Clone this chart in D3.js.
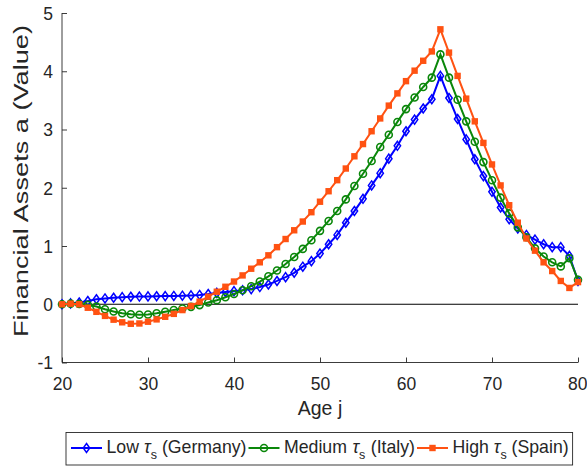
<!DOCTYPE html>
<html>
<head>
<meta charset="utf-8">
<script src="https://cdn.jsdelivr.net/npm/d3@7"></script>
<style>
  body { margin: 0; background: #fff; }
  text { font-family: "Liberation Sans", Arial, Helvetica, sans-serif; fill: #262626; }
</style>
</head>
<body>
<div id="chart"></div>
<script>
// Data: financial assets by age, one value per age 20..80
const ages = d3.range(20, 81);

const lowGermany = [
  0, 0.015, 0.03, 0.055, 0.085, 0.10, 0.112, 0.122, 0.128, 0.132,
  0.135, 0.137, 0.14, 0.143, 0.147, 0.152, 0.16, 0.175, 0.195, 0.21,
  0.225, 0.24, 0.26, 0.295, 0.34, 0.40, 0.465, 0.54, 0.645, 0.74,
  0.87, 1.03, 1.19, 1.40, 1.60, 1.81, 2.04, 2.25, 2.50, 2.72,
  2.97, 3.17, 3.36, 3.52, 3.92, 3.54, 3.18, 2.83, 2.49, 2.20,
  1.93, 1.66, 1.46, 1.30, 1.19, 1.11, 1.03, 0.98, 0.98, 0.83,
  0.40
];

const mediumItaly = [
  0, 0.01, 0.005, -0.01, -0.04, -0.085, -0.125, -0.155, -0.172, -0.18,
  -0.175, -0.155, -0.128, -0.098, -0.072, -0.045, -0.015, 0.03, 0.07, 0.12,
  0.175, 0.24, 0.31, 0.39, 0.48, 0.58, 0.69, 0.81, 0.95, 1.10,
  1.26, 1.43, 1.60, 1.80, 2.03, 2.24, 2.46, 2.70, 2.91, 3.13,
  3.35, 3.55, 3.73, 3.89, 4.29, 3.89, 3.51, 3.14, 2.79, 2.44,
  2.13, 1.83, 1.56, 1.32, 1.15, 0.96, 0.82, 0.72, 0.65, 0.79,
  0.42
];

const highSpain = [
  0, 0.01, 0, -0.06, -0.13, -0.2, -0.265, -0.31, -0.335, -0.33,
  -0.3, -0.26, -0.215, -0.165, -0.1, -0.03, 0.045, 0.13, 0.215, 0.30,
  0.39, 0.495, 0.61, 0.72, 0.84, 0.98, 1.12, 1.27, 1.42, 1.58,
  1.76, 1.94, 2.13, 2.33, 2.54, 2.75, 2.97, 3.19, 3.41, 3.62,
  3.83, 4.01, 4.18, 4.34, 4.72, 4.32, 3.92, 3.53, 3.14, 2.77,
  2.40, 2.04, 1.70, 1.40, 1.13, 0.92, 0.72, 0.57, 0.40, 0.28,
  0.38
];

const xTicks = [20, 30, 40, 50, 60, 70, 80];
const yTicks = [-1, 0, 1, 2, 3, 4, 5];

const series = [
  { name: "Low", country: "(Germany)", values: lowGermany, color: "#0000ff", marker: "diamond" },
  { name: "Medium", country: "(Italy)", values: mediumItaly, color: "#0a870a", marker: "circle" },
  { name: "High", country: "(Spain)", values: highSpain, color: "#ff5212", marker: "square" }
];

const legendTextWidths = [140, 131, 116];

// Dimensions
let width = 587,
    height = 468;

let margin = { top: 13, bottom: 105.5, left: 62, right: 9 };

let svg = d3.select("#chart")
  .append("svg")
  .attr("width", width)
  .attr("height", height);

let x = d3.scaleLinear()
  .domain([20, 80])
  .range([margin.left, width - margin.right]);

let y = d3.scaleLinear()
  .domain([-1, 5])
  .range([height - margin.bottom, margin.top]);

// Axes (MATLAB look: ticks inside, no box)
let xAxis = svg.append("g")
  .attr("transform", `translate(0,${y(-1)})`)
  .call(d3.axisBottom(x).tickValues(xTicks).tickSize(-5).tickFormat(d => String(d)));

let yAxis = svg.append("g")
  .attr("transform", `translate(${x(20)},0)`)
  .call(d3.axisLeft(y).tickValues(yTicks).tickSize(-5).tickPadding(9).tickFormat(d => String(d)));

[xAxis, yAxis].forEach(g => {
  g.select(".domain").attr("stroke", "#262626").attr("stroke-width", 0.9);
  g.selectAll(".tick line").attr("stroke", "#262626").attr("stroke-width", 0.9);
  g.selectAll(".tick text")
    .attr("fill", "#262626")
    .style("font-family", "'Liberation Sans', Arial, sans-serif")
    .style("font-size", "17.5px");
});
xAxis.select(".domain").attr("d", `M${x(20)},0H${x(80)}`);
yAxis.select(".domain").attr("d", `M0,${y(-1)}V${y(5)}`);
xAxis.selectAll(".tick text").attr("dy", 0).attr("y", 27);
// keep the last label inside the page, like the reference
xAxis.selectAll(".tick text").filter(d => d === 80).attr("text-anchor", "end").attr("x", 9);
yAxis.selectAll(".tick text").attr("dy", "0.36em");

// Axis labels
svg.append("text")
  .attr("x", (x(20) + x(80)) / 2)
  .attr("y", 415)
  .attr("text-anchor", "middle")
  .style("font-size", "19.5px")
  .text("Age j");

svg.append("text")
  .attr("transform", `translate(28,181) rotate(-90)`)
  .attr("text-anchor", "middle")
  .attr("textLength", 312)
  .attr("lengthAdjust", "spacingAndGlyphs")
  .style("font-size", "19.5px")
  .text("Financial Assets a (Value)");

// Zero line
svg.append("line")
  .attr("x1", x(20))
  .attr("x2", x(80))
  .attr("y1", y(0))
  .attr("y2", y(0))
  .attr("stroke", "#000")
  .attr("stroke-width", 1.2);

// Marker drawing helper
function drawMarker(g, type, color) {
  if (type === "diamond") {
    g.append("path")
      .attr("d", "M0,-4.5L3.2,0L0,4.5L-3.2,0Z")
      .attr("fill", "none")
      .attr("stroke", color)
      .attr("stroke-width", 1.5);
  } else if (type === "circle") {
    g.append("circle")
      .attr("r", 3.5)
      .attr("fill", "none")
      .attr("stroke", color)
      .attr("stroke-width", 1.6);
  } else {
    g.append("rect")
      .attr("x", -3.2)
      .attr("y", -3.2)
      .attr("width", 6.4)
      .attr("height", 6.4)
      .attr("fill", color);
  }
}

let line = d3.line()
  .x((d, i) => x(ages[i]))
  .y(d => y(d));

// Series lines and markers
series.forEach(s => {
  svg.append("path")
    .datum(s.values)
    .attr("fill", "none")
    .attr("stroke", s.color)
    .attr("stroke-width", 2)
    .attr("d", line);

  svg.append("g")
    .selectAll("g")
    .data(s.values)
    .enter()
    .append("g")
    .attr("transform", (d, i) => `translate(${x(ages[i])},${y(d)})`)
    .each(function() { drawMarker(d3.select(this), s.marker, s.color); });
});

// Legend
let legend = svg.append("g");
let legendBox = legend.append("rect")
  .attr("x", 66)
  .attr("y", 432.5)
  .attr("height", 32.5)
  .attr("fill", "#fff")
  .attr("stroke", "#262626")
  .attr("stroke-width", 0.9);

let cursor = 71;
let legendY = 448;
series.forEach((s, i) => {
  legend.append("line")
    .attr("x1", cursor)
    .attr("x2", cursor + 31)
    .attr("y1", legendY)
    .attr("y2", legendY)
    .attr("stroke", s.color)
    .attr("stroke-width", 2);
  let m = legend.append("g").attr("transform", `translate(${cursor + 15.5},${legendY})`);
  drawMarker(m, s.marker, s.color);

  let t = legend.append("text")
    .attr("x", cursor + 35.5)
    .attr("y", 452.5)
    .style("font-size", "17.7px");
  t.append("tspan").text(s.name + " ");
  let tau = t.append("tspan").style("font-style", "italic").text("τ");
  t.append("tspan").attr("dy", 6).style("font-size", "12.5px").text("s");
  let country = t.append("tspan").attr("dy", -6).text(" " + s.country);
  let natural = t.node().getBBox().width;
  let extra = Math.max(0, legendTextWidths[i] - natural);
  // spread the extra width over the gaps around the tau symbol
  tau.attr("dx", extra / 2);
  country.attr("dx", extra / 2);
  cursor = cursor + 35.5 + t.node().getBBox().width + 2;
});
legendBox.attr("width", cursor + 2 - 66);
</script>
</body>
</html>
